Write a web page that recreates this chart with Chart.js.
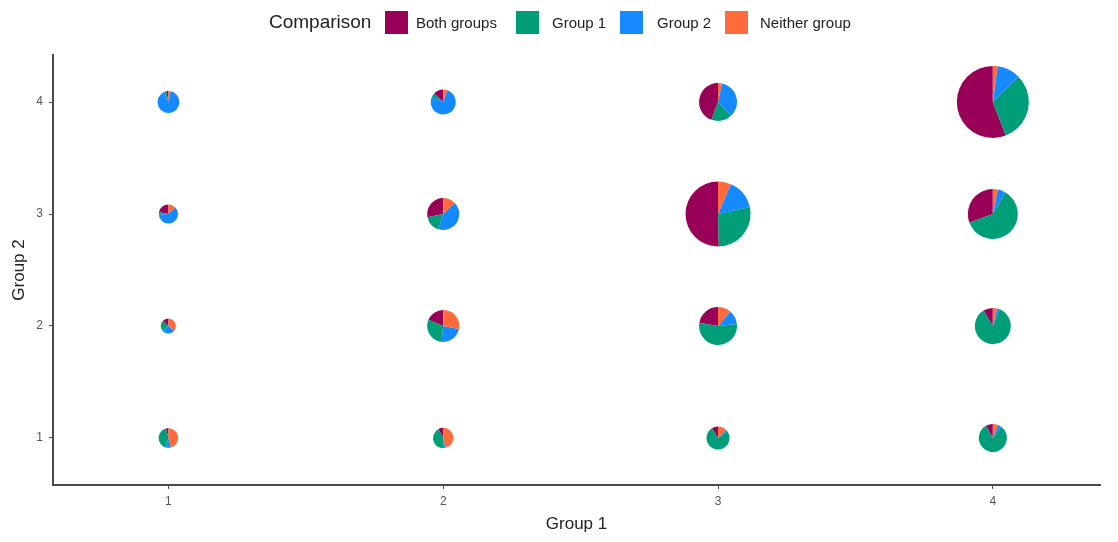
<!DOCTYPE html>
<html>
<head>
<meta charset="utf-8">
<script src="https://cdn.jsdelivr.net/npm/chart.js@4.4.0/dist/chart.umd.min.js"></script>
<style>
  html, body { margin: 0; padding: 0; background: #fff; }
  #wrap { position: relative; width: 1118px; height: 542px; font-family: "Liberation Sans", Arial, sans-serif; }
  #legend { position: absolute; top: 0; left: 0; width: 1118px; height: 44px; }
  #legend span { position: absolute; white-space: nowrap; }
  .sw { width: 23px; height: 23px; top: 11px; }
  .lab { font-size: 15px; color: #222; top: 14px; }
  canvas { position: absolute; top: 0; left: 0; }
</style>
</head>
<body>
<div id="wrap">
  <canvas id="c" width="1118" height="542"></canvas>
  <div id="legend"></div>
</div>
<script>
// ---- data ----
const legendTitle = "Comparison";
const categories = ["Both groups", "Group 1", "Group 2", "Neither group"];
const tickValues = [1, 2, 3, 4];
// pie centres: Group 1 score (x) and Group 2 score (y)
const group1Score = [1, 2, 3, 4,  1, 2, 3, 4,  1, 2, 3, 4,  1, 2, 3, 4];
const group2Score = [1, 1, 1, 1,  2, 2, 2, 2,  3, 3, 3, 3,  4, 4, 4, 4];
// counts per comparison category at each cell
const bothGroups   = [1, 2, 3, 4,   2, 12, 20, 7,   5, 18, 133, 48,   1, 5, 40, 181];
const group1Only   = [10, 11, 25, 40, 3, 19, 49, 69, 1, 11, 74, 95,   1, 2, 16, 102];
const group2Only   = [2, 1, 1, 2,   4, 15, 11, 2,   14, 27, 40, 8,    27, 30, 31, 34];
const neitherGroup = [11, 12, 4, 3, 5, 18, 10, 3,   3, 8, 17, 5,      1, 2, 3, 7];

// ---- styles ----
const colors = ["#990057", "#009E78", "#1589FF", "#FF6B3A"];
const RADIUS_PER_SQRT = 2.0;
const axisColor = "#4a4a4a";
const tickColor = "#555555";

// legend (HTML)
const legendPos = [[385, 416], [516, 552], [620, 657], [725, 760]];
const lg = document.getElementById('legend');
const t = document.createElement('span');
t.textContent = legendTitle;
t.style.cssText = 'left:269px;top:11px;font-size:19px;color:#222;';
lg.appendChild(t);
categories.forEach((c, i) => {
  const s = document.createElement('span');
  s.className = 'sw';
  s.style.left = legendPos[i][0] + 'px';
  s.style.background = colors[i];
  lg.appendChild(s);
  const l = document.createElement('span');
  l.className = 'lab';
  l.style.left = legendPos[i][1] + 'px';
  l.textContent = c;
  lg.appendChild(l);
});

const series = [bothGroups, group1Only, group2Only, neitherGroup];

const piePlugin = {
  id: 'scatterPies',
  afterDatasetsDraw(chart) {
    const { ctx, scales: { x, y } } = chart;
    ctx.save();
    group1Score.forEach((gx, i) => {
      const vals = series.map(s => s[i]);
      const total = vals.reduce((a, b) => a + b, 0);
      const cx = x.getPixelForValue(gx);
      const cy = y.getPixelForValue(group2Score[i]);
      const r = RADIUS_PER_SQRT * Math.sqrt(total);
      let start = -Math.PI / 2;
      vals.forEach((v, k) => {
        if (!v) return;
        const ang = v / total * Math.PI * 2;
        ctx.beginPath();
        ctx.moveTo(cx, cy);
        ctx.arc(cx, cy, r, start, start - ang, true);
        ctx.closePath();
        ctx.fillStyle = colors[k];
        ctx.fill();
        start -= ang;
      });
    });
    ctx.restore();
  }
};

const points = group1Score.map((gx, i) => ({ x: gx, y: group2Score[i] }));

new Chart(document.getElementById('c'), {
  type: 'scatter',
  data: {
    datasets: [{ label: 'cells', data: points, pointRadius: 0, pointHoverRadius: 0 }]
  },
  options: {
    responsive: false,
    animation: false,
    events: [],
    layout: { padding: { top: 55, right: 18, left: 9, bottom: 0 } },
    plugins: { legend: { display: false }, tooltip: { enabled: false } },
    scales: {
      x: {
        type: 'linear', min: 0.58, max: 4.39,
        afterBuildTicks: s => { s.ticks = tickValues.map(v => ({ value: v })); },
        afterFit: s => { s.height = 57; },
        grid: { display: true, drawOnChartArea: false, drawTicks: true, tickLength: 4, color: axisColor, tickWidth: 1 },
        border: { display: true, color: axisColor, width: 2 },
        ticks: { color: tickColor, font: { family: "Liberation Sans", size: 12 }, padding: 5, callback: v => String(v) },
        title: { display: true, text: 'Group 1', color: '#222', font: { family: "Liberation Sans", size: 17 }, padding: { top: 4, bottom: 7 } }
      },
      y: {
        type: 'linear', min: 0.58, max: 4.42,
        afterBuildTicks: s => { s.ticks = tickValues.map(v => ({ value: v })); },
        afterFit: s => { s.width = 44; },
        grid: { display: true, drawOnChartArea: false, drawTicks: true, tickLength: 4, color: axisColor, tickWidth: 1 },
        border: { display: true, color: axisColor, width: 2 },
        ticks: { color: tickColor, font: { family: "Liberation Sans", size: 12 }, padding: 6, callback: v => String(v) },
        title: { display: true, text: 'Group 2', color: '#222', font: { family: "Liberation Sans", size: 17 }, padding: { top: 0, bottom: 0 } }
      }
    }
  },
  plugins: [piePlugin]
});
</script>
</body>
</html>
